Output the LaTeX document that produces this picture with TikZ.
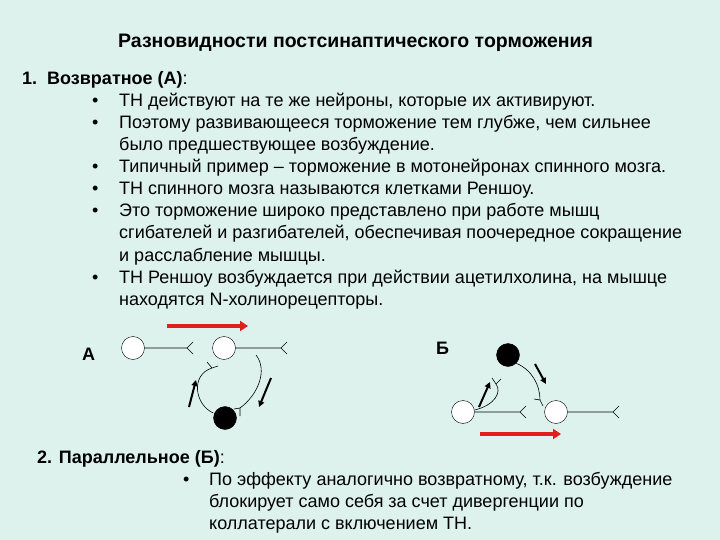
\documentclass[tikz,border=0pt]{standalone}
\usepackage{fontspec}
\setmainfont{Liberation Sans}
\usetikzlibrary{arrows.meta}
\definecolor{bg}{RGB}{221,242,236}
\definecolor{rarr}{RGB}{225,30,30}
\begin{document}
\begin{tikzpicture}[x=1pt,y=-1pt,
  txt/.style={anchor=base west,inner sep=0pt,font=\fontsize{18}{21}\selectfont},
  wcell/.style={circle,draw,fill=white,minimum size=23pt,inner sep=0pt},
  bcell/.style={circle,draw,fill=black,minimum size=23pt,inner sep=0pt},
  ax/.style={line width=0.6pt},
  red/.style={draw=rarr,line width=3.5pt,-{Triangle[length=8pt,width=10pt]}},
  blk/.style={line width=2pt,-{Triangle[length=6pt,width=6pt]}}]
\fill[bg] (0,0) rectangle (720,540);
\useasboundingbox (0,0) rectangle (720,540);
\node[txt,font=\bfseries\fontsize{19.5}{22}\selectfont] (t) at (118,48) {Разновидности постсинаптического торможения};
\node[txt,font=\bfseries\fontsize{18}{21}\selectfont] (h1) at (22,85) {1.\ \ Возвратное (А)\rmfamily\mdseries:};
\foreach \y/\b/\s [count=\i] in {
 107/1/{ТН действуют на те же нейроны, которые их активируют.},
 129/1/{Поэтому развивающееся торможение тем глубже, чем сильнее},
 151/0/{было предшествующее возбуждение.},
 173/1/{Типичный пример – торможение в мотонейронах спинного мозга.},
 195/1/{ТН спинного мозга называются клетками  Реншоу.},
 217/1/{Это торможение широко представлено при работе мышц},
 239/0/{сгибателей и разгибателей, обеспечивая поочередное сокращение},
 261/0/{и расслабление мышцы.},
 283/1/{ТН Реншоу возбуждается при действии ацетилхолина, на мышце},
 305/0/{находятся N-холинорецепторы.}}{
  \node[txt] (l\i) at (119,\y) {\s};
  \ifnum\b=1 \node[txt] (b\i) at (92,\y) {•};\fi
}
% A
\node[txt,font=\bfseries\fontsize{18}{21}\selectfont] (la) at (82,360) {А};
\node[wcell] (a1) at (133,348) {};
\node[wcell] (a2) at (224,348) {};
\node[bcell] (a3) at (225,418) {};
\coordinate (a1e) at (187,348);
\coordinate (a2e) at (281,348);
\draw[ax] (a1) -- (a1e) (a1e) -- +(6,-6) (a1e) -- +(6,6);
\draw[ax] (a2) -- (a2e) (a2e) -- +(6,-6) (a2e) -- +(6,6);
\coordinate (af1) at (212,368);
\draw[ax] (a3.west) ++(0,-5) .. controls (195,405) and (190,375) .. (af1);
\draw[ax] (af1) -- +(-5,-6) (af1) -- +(6,-2);
\coordinate (af2) at (240,408);
\draw[ax] (256,355) .. controls (268,370) and (258,395) .. (af2);
\draw[ax] (af2) -- +(-6,1) (af2) -- +(0,8);
\coordinate (ra1) at (167,326); \coordinate (ra2) at (248,326);
\draw[red] (ra1) -- (ra2);
\coordinate (ub1) at (189,407); \coordinate (ub2) at (196,380);
\draw[blk] (ub1) -- (ub2);
\coordinate (db1) at (271,378); \coordinate (db2) at (259,407);
\draw[blk] (db1) -- (db2);
% B
\node[txt,font=\bfseries\fontsize{18}{21}\selectfont] (lb) at (436,354) {Б};
\node[bcell] (b1) at (508,355) {};
\node[wcell] (b2) at (463,412) {};
\node[wcell] (b3) at (556,412) {};
\coordinate (b2e) at (520,412);
\coordinate (b3e) at (613,412);
\draw[ax] (b2) -- (b2e) (b2e) -- +(6,-6) (b2e) -- +(6,6);
\draw[ax] (b3) -- (b3e) (b3e) -- +(6,-6) (b3e) -- +(6,6);
\coordinate (bf1) at (496,384);
\draw[ax] (b2.east) ++(0,-2) .. controls (495,405) and (502,392) .. (bf1);
\draw[ax] (bf1) -- +(-4,-6) (bf1) -- +(5,-5);
\coordinate (bf2) at (540,400);
\draw[ax] (b1.south east) .. controls (532,370) and (540,385) .. (bf2);
\draw[ax] (bf2) -- +(-6,-1) (bf2) -- +(3,6);
\coordinate (rb1) at (480,434); \coordinate (rb2) at (561,434);
\draw[red] (rb1) -- (rb2);
\coordinate (bu1) at (479,407); \coordinate (bu2) at (490,382);
\draw[blk] (bu1) -- (bu2);
\coordinate (bd1) at (535,364); \coordinate (bd2) at (546,384);
\draw[blk] (bd1) -- (bd2);
% part 2
\node[txt,font=\bfseries\fontsize{18}{21}\selectfont] (h2) at (37,463) {2. Параллельное (Б)\rmfamily\mdseries:};
\node[txt] (c0) at (183,485) {•};
\node[txt] (c1) at (209,485) {По эффекту аналогично возвратному, т.к. возбуждение};
\node[txt] (c2) at (209,507) {блокирует само себя за счет дивергенции по};
\node[txt] (c3) at (209,529) {коллатерали с включением ТН.};
\end{tikzpicture}
\end{document}
